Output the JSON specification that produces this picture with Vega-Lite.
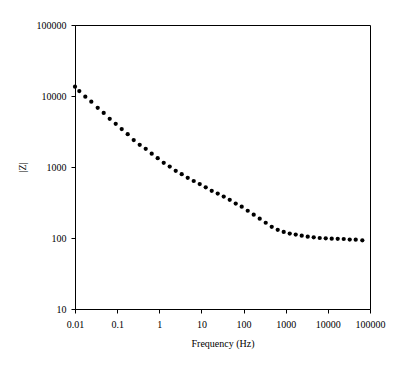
{
  "$schema": "https://vega.github.io/schema/vega-lite/v6.json",
  "width": 295,
  "height": 284,
  "autosize": "none",
  "padding": {"left": 75, "top": 25, "right": 33, "bottom": 60},
  "background": "white",
  "config": {
    "view": {"stroke": "black", "strokeWidth": 1},
    "font": "Liberation Serif",
    "axis": {
      "domainColor": "black",
      "tickColor": "black",
      "labelColor": "black",
      "titleColor": "black",
      "labelFont": "Liberation Serif",
      "titleFont": "Liberation Serif",
      "labelFontSize": 10,
      "titleFontSize": 10,
      "titleFontWeight": "normal",
      "grid": false,
      "tickSize": 4,
      "domainWidth": 1,
      "tickWidth": 1
    }
  },
  "data": {
    "values": [
      {"f": 0.01, "z": 13520},
      {"f": 0.01265, "z": 11750},
      {"f": 0.01756, "z": 9775},
      {"f": 0.02436, "z": 8318},
      {"f": 0.03456, "z": 6823},
      {"f": 0.04797, "z": 5765},
      {"f": 0.06661, "z": 4775},
      {"f": 0.09244, "z": 4058},
      {"f": 0.1283, "z": 3428},
      {"f": 0.178, "z": 2897},
      {"f": 0.2472, "z": 2400},
      {"f": 0.343, "z": 2055},
      {"f": 0.4762, "z": 1804},
      {"f": 0.6607, "z": 1538},
      {"f": 0.917, "z": 1330},
      {"f": 1.273, "z": 1146},
      {"f": 1.767, "z": 1016},
      {"f": 2.453, "z": 884},
      {"f": 3.404, "z": 792},
      {"f": 4.725, "z": 704},
      {"f": 6.559, "z": 635},
      {"f": 9.104, "z": 576},
      {"f": 12.64, "z": 518},
      {"f": 17.54, "z": 462},
      {"f": 24.34, "z": 423},
      {"f": 33.79, "z": 383},
      {"f": 46.9, "z": 345},
      {"f": 65.1, "z": 306},
      {"f": 90.3, "z": 276},
      {"f": 125.4, "z": 242},
      {"f": 174.0, "z": 213},
      {"f": 241.5, "z": 187},
      {"f": 335.3, "z": 164},
      {"f": 465.4, "z": 144},
      {"f": 645.9, "z": 130.4},
      {"f": 896.6, "z": 121.5},
      {"f": 1245, "z": 115.3},
      {"f": 1727, "z": 111.7},
      {"f": 2397, "z": 107.7},
      {"f": 3327, "z": 104.3},
      {"f": 4619, "z": 102.3},
      {"f": 6412, "z": 100},
      {"f": 8900, "z": 99.0},
      {"f": 12350, "z": 97.8},
      {"f": 17140, "z": 97.4},
      {"f": 23790, "z": 96.8},
      {"f": 33010, "z": 95.0},
      {"f": 45820, "z": 94.6},
      {"f": 65740, "z": 92.8}
    ]
  },
  "mark": {"type": "circle", "color": "black", "opacity": 1, "size": 18},
  "encoding": {
    "x": {
      "field": "f",
      "type": "quantitative",
      "scale": {"type": "log", "domain": [0.01, 100000], "nice": false},
      "axis": {
        "title": "Frequency (Hz)",
        "values": [0.01, 0.1, 1, 10, 100, 1000, 10000, 100000],
        "format": "~g",
        "labelPadding": 6,
        "titlePadding": 9,
        "labelFlush": false,
        "labelOverlap": false
      }
    },
    "y": {
      "field": "z",
      "type": "quantitative",
      "scale": {"type": "log", "domain": [10, 100000], "nice": false},
      "axis": {
        "title": "|Z|",
        "values": [10, 100, 1000, 10000, 100000],
        "format": "d",
        "labelPadding": 5,
        "titlePadding": 9,
        "labelFlush": false,
        "labelOverlap": false
      }
    }
  }
}
